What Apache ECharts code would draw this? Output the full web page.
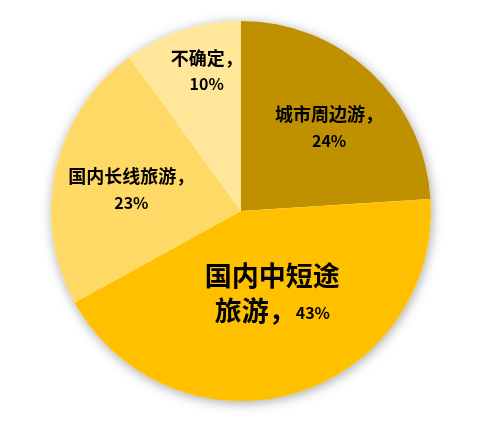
<!DOCTYPE html>
<html>
<head>
<meta charset="utf-8">
<script src="https://cdn.jsdelivr.net/npm/echarts@6/dist/echarts.min.js"></script>
<style>
html,body{margin:0;padding:0;background:#fff;}
#c{width:488px;height:423px;}
</style>
</head>
<body>
<div id="c"></div>
<script>
const categories = ['城市周边游', '国内中短途旅游', '国内长线旅游', '不确定'];
const values = [24, 43, 23, 10];
const colors = ['#BF9000', '#FFC000', '#FFD966', '#FFE699'];
const labelOffsets = [[21, -12], [4, -12], [-14, 0], [-4, -47]];

const chart = echarts.init(document.getElementById('c'));
const FONT = '"Noto Sans CJK SC", "Microsoft YaHei", sans-serif';

const data = categories.map((name, i) => ({
  name: name,
  value: values[i],
  itemStyle: { color: colors[i] }
}));

chart.setOption({
  animation: false,
  series: [
    {
      type: 'pie',
      silent: true,
      z: 1,
      center: [241, 211],
      radius: 190,
      data: [{ value: 1, name: '' }],
      label: { show: false },
      labelLine: { show: false },
      itemStyle: {
        color: '#fff',
        shadowBlur: 12,
        shadowColor: 'rgba(0,0,0,0.35)',
        shadowOffsetX: 1,
        shadowOffsetY: 2
      }
    },
    {
      type: 'pie',
      z: 2,
      center: [241, 211],
      radius: 190,
      startAngle: 90,
      clockwise: true,
      data: data,
      itemStyle: { borderWidth: 0 },
      label: {
        show: true,
        position: 'inside',
        fontFamily: FONT,
        fontWeight: 'bold',
        color: '#000',
        align: 'center',
        formatter: function (p) {
          if (p.dataIndex === 1) {
            return '{big|国内中短途}\n{big|旅游，}{pct|' + p.value + '%}';
          }
          return '{s|' + p.name + '，}\n{n|' + p.value + '%}';
        },
        rich: {
          s: { fontSize: 18, fontWeight: 'bold', fontFamily: FONT, color: '#000', lineHeight: 26 },
          n: { fontSize: 16, fontWeight: 'bold', fontFamily: FONT, color: '#000', lineHeight: 26 },
          big: { fontSize: 27, fontWeight: 'bold', fontFamily: FONT, color: '#000', lineHeight: 35 },
          pct: { fontSize: 16, fontWeight: 'bold', fontFamily: FONT, color: '#000', lineHeight: 35, padding: [5, 0, 0, 0] }
        }
      },
      labelLine: { show: false },
      labelLayout: function (p) {
        const o = labelOffsets[p.dataIndex];
        return { dx: o[0], dy: o[1] };
      }
    }
  ]
});
</script>
</body>
</html>
